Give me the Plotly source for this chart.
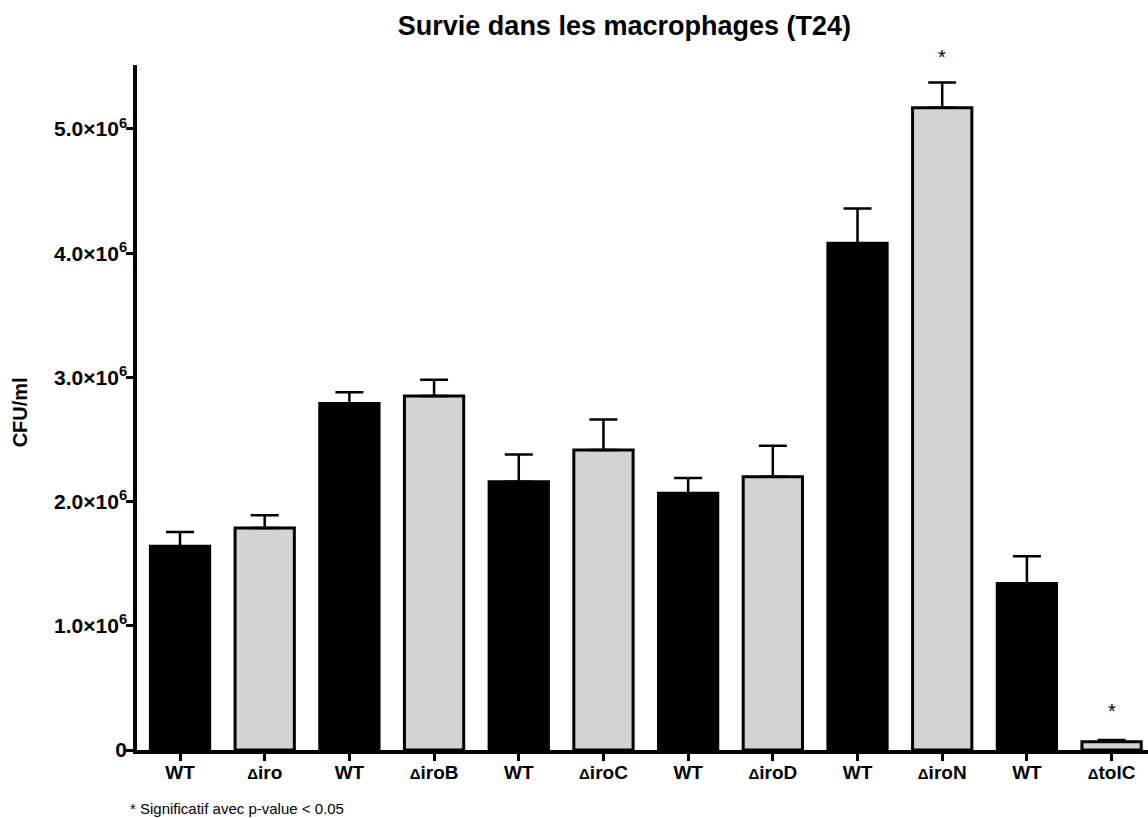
import plotly.graph_objects as go

FONT = "Liberation Sans, Arial, sans-serif"

# Strains and whether each is a mutant (grey) or wild type (black)
strain_prefix = ["", "Δ", "", "Δ", "", "Δ", "", "Δ", "", "Δ", "", "Δ"]
strain_names = ["WT", "iro", "WT", "iroB", "WT", "iroC", "WT", "iroD",
                "WT", "iroN", "WT", "tolC"]
is_mutant = [False, True, False, True, False, True, False, True,
             False, True, False, True]

# Mean CFU/ml and upper error (SEM)
means = [1.64e6, 1.787e6, 2.79e6, 2.85e6, 2.16e6, 2.415e6, 2.067e6, 2.20e6,
         4.08e6, 5.17e6, 1.34e6, 0.067e6]
errors = [0.115e6, 0.103e6, 0.09e6, 0.13e6, 0.22e6, 0.245e6, 0.123e6, 0.25e6,
          0.28e6, 0.205e6, 0.22e6, 0.013e6]

# Strains marked as significant, with the height of their asterisk
significant = [False, False, False, False, False, False, False, False,
               False, True, False, True]
star_values = [5.58e6, 0.31e6]

y_tickvals = [0, 1e6, 2e6, 3e6, 4e6, 5e6]
y_ticktext = ["0", "1.0×10<sup>6</sup>", "2.0×10<sup>6</sup>", "3.0×10<sup>6</sup>",
              "4.0×10<sup>6</sup>", "5.0×10<sup>6</sup>"]

Y_MAX = 5.515e6

x = list(range(len(strain_names)))
fills = ["#d3d3d3" if m else "#000000" for m in is_mutant]


def tick_label(prefix, name):
    if prefix:
        return ('<b><span style="font-size:15px">' + prefix + "</span>"
                + name + "</b>")
    return "<b>" + name + "</b>"


fig = go.Figure()
fig.add_trace(go.Bar(
    x=x, y=means, width=0.70,
    marker=dict(color=fills, line=dict(color="#000000", width=3)),
    error_y=dict(type="data", array=errors, symmetric=False,
                 arrayminus=[0] * len(errors),
                 color="#000000", thickness=2.5, width=14),
    showlegend=False,
))

sig_idx = [i for i, s in enumerate(significant) if s]
for i, yv in zip(sig_idx, star_values):
    fig.add_annotation(x=i, xref="x", y=yv / Y_MAX, yref="paper",
                       text="*", showarrow=False, yanchor="middle",
                       font=dict(size=20, color="#000000", family=FONT))

# Y axis title
fig.add_annotation(
    text="<b>CFU/ml</b>", textangle=-90,
    xref="paper", yref="paper", x=-0.1157, y=0.493,
    xanchor="center", yanchor="middle", showarrow=False,
    font=dict(size=20, color="#000000", family=FONT),
)

# Footnote
fig.add_annotation(
    text="* Significatif avec p-value < 0.05",
    xref="paper", yref="paper", x=-0.009, y=-0.086,
    xanchor="left", yanchor="middle", showarrow=False,
    font=dict(size=15, color="#000000", family=FONT),
)

fig.update_layout(
    width=1148, height=818,
    margin=dict(l=137, r=0, t=65, b=68),
    paper_bgcolor="white", plot_bgcolor="white",
    font=dict(family=FONT, color="#000000"),
    title=dict(text="<b>Survie dans les macrophages (T24)</b>",
               xref="paper", x=0.258, xanchor="left",
               yref="container", y=0.969, yanchor="middle",
               font=dict(size=27)),
)
fig.update_xaxes(
    range=[-0.508, 11.43], tickmode="array", tickvals=x,
    ticktext=[tick_label(p, n) for p, n in zip(strain_prefix, strain_names)],
    tickfont=dict(size=19), showline=True, linecolor="#000000", linewidth=3.5,
    ticks="outside", ticklen=7, tickwidth=3, tickcolor="#000000",
    ticklabelstandoff=-5,
    showgrid=False, zeroline=False,
)
fig.update_yaxes(
    range=[0, Y_MAX], tickmode="array", tickvals=y_tickvals,
    ticktext=["<b>" + t + "</b>" for t in y_ticktext],
    tickfont=dict(size=21), showline=True, linecolor="#000000", linewidth=3.5,
    ticks="outside", ticklen=7, tickwidth=3, tickcolor="#000000",
    ticklabelstandoff=-5,
    showgrid=False, zeroline=False,
)

fig.write_html("out.html")
